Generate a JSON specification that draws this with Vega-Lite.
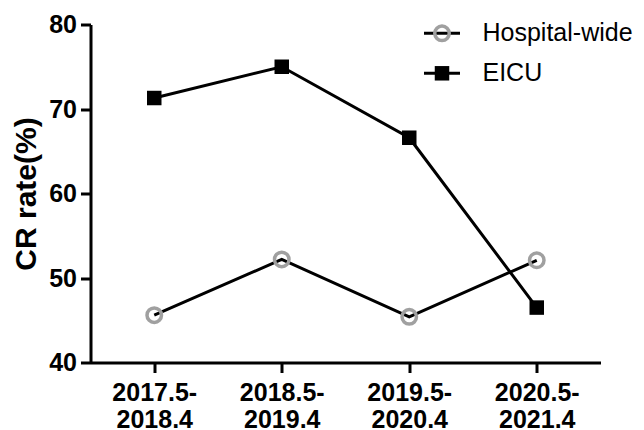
{
  "$schema": "https://vega.github.io/schema/vega-lite/v6.json",
  "width": 510,
  "height": 338,
  "autosize": {"type": "none"},
  "padding": {"left": 90.5, "top": 24.5, "right": 43.5, "bottom": 67.5},
  "background": "white",
  "config": {"view": {"stroke": null}, "font": "Liberation Sans"},
  "data": {
    "values": [
      {"period": "2017.5-2018.4", "series": "Hospital-wide", "grp": "Hospital-wide", "rate": 45.6},
      {"period": "2018.5-2019.4", "series": "Hospital-wide", "grp": "Hospital-wide", "rate": 52.2},
      {"period": "2019.5-2020.4", "series": "Hospital-wide", "grp": "Hospital-wide", "rate": 45.4},
      {"period": "2020.5-2021.4", "series": "Hospital-wide", "grp": "Hospital-wide", "rate": 52.1},
      {"period": "2017.5-2018.4", "series": "EICU", "grp": "EICU", "rate": 71.3},
      {"period": "2018.5-2019.4", "series": "EICU", "grp": "EICU", "rate": 75.0},
      {"period": "2019.5-2020.4", "series": "EICU", "grp": "EICU", "rate": 66.6},
      {"period": "2020.5-2021.4", "series": "EICU", "grp": "EICU", "rate": 46.5}
    ]
  },
  "encoding": {
    "x": {
      "field": "period",
      "type": "ordinal",
      "sort": null,
      "scale": {"type": "point", "padding": 0.5},
      "axis": {
        "title": null,
        "labelAngle": 0,
        "labelExpr": "[slice(datum.label,0,7), slice(datum.label,7)]",
        "labelFont": "Liberation Sans",
        "labelFontWeight": "bold",
        "labelFontSize": 25,
        "labelColor": "black",
        "labelPadding": 8,
        "labelLineHeight": 26.5,
        "labelBaseline": "top",
        "tickSize": 10,
        "tickWidth": 3,
        "tickColor": "black",
        "domainColor": "black",
        "domainWidth": 3,
        "grid": false
      }
    },
    "y": {
      "field": "rate",
      "type": "quantitative",
      "scale": {"domain": [40, 80], "nice": false, "zero": false},
      "axis": {
        "title": "CR rate(%)",
        "values": [40, 50, 60, 70, 80],
        "grid": false,
        "labelFont": "Liberation Sans",
        "labelFontWeight": "bold",
        "labelFontSize": 25,
        "labelColor": "black",
        "labelPadding": 4,
        "tickSize": 10,
        "tickWidth": 3,
        "tickColor": "black",
        "domainColor": "black",
        "domainWidth": 3,
        "titleFont": "Liberation Sans",
        "titleFontSize": 30,
        "titleFontWeight": "bold",
        "titleColor": "black",
        "titlePadding": 7
      }
    }
  },
  "layer": [
    {
      "mark": {"type": "line", "strokeWidth": 3},
      "encoding": {
        "color": {
          "field": "series",
          "type": "nominal",
          "sort": null,
          "scale": {"range": ["black", "black"]},
          "legend": {
            "title": null,
            "orient": "none",
            "legendX": 332,
            "legendY": -10.7,
            "symbolType": "stroke",
            "symbolSize": 1296,
            "symbolStrokeWidth": 3,
            "labelFont": "Liberation Sans",
            "labelFontSize": 25,
            "labelColor": "black",
            "labelOffset": 21,
            "rowPadding": 7,
            "padding": 0
          }
        }
      }
    },
    {
      "mark": {"type": "point", "size": 210, "strokeWidth": 3.5, "opacity": 1},
      "encoding": {
        "shape": {
          "field": "grp",
          "type": "nominal",
          "scale": {"domain": ["Hospital-wide", "EICU"], "range": ["circle", "square"]},
          "legend": {
            "title": null,
            "orient": "none",
            "legendX": 339,
            "legendY": -3.7,
            "symbolSize": 210,
            "symbolStrokeWidth": 3.5,
            "symbolOpacity": 1,
            "labelExpr": "''",
            "labelOpacity": 0,
            "labelFontSize": 25,
            "rowPadding": 11,
            "padding": 0,
            "zindex": 1
          }
        },
        "fill": {
          "field": "grp",
          "type": "nominal",
          "scale": {"domain": ["Hospital-wide", "EICU"], "range": ["transparent", "black"]}
        },
        "stroke": {
          "field": "grp",
          "type": "nominal",
          "scale": {"domain": ["Hospital-wide", "EICU"], "range": ["#a0a0a0", "transparent"]}
        }
      }
    }
  ]
}
